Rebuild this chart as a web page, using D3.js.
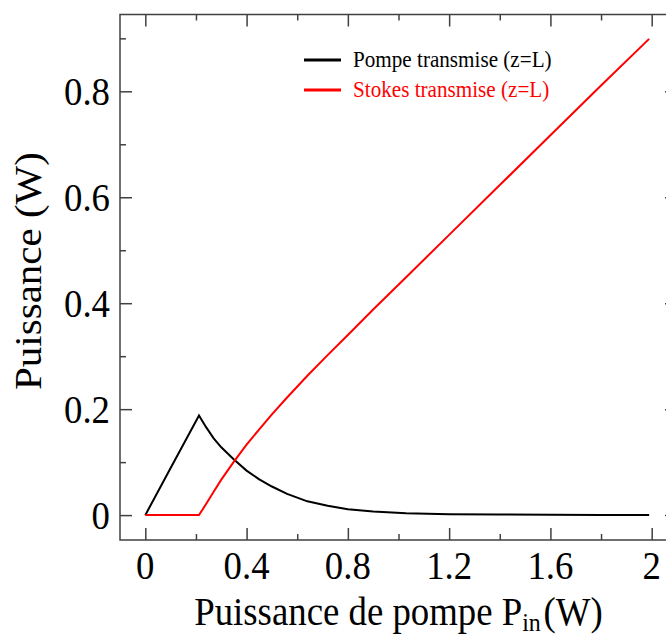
<!DOCTYPE html>
<html>
<head>
<meta charset="utf-8">
<script src="https://cdn.jsdelivr.net/npm/d3@7"></script>
<style>
    body { margin: 0; background: #fff; }
    svg { display: block; }
</style>
</head>
<body>
<div id="chartContainer"></div>
<script>
// Data
var pumpPower = [0, 0.1, 0.212, 0.24, 0.27, 0.3, 0.35, 0.4, 0.45, 0.5, 0.56, 0.64, 0.72, 0.8, 0.9, 1.03, 1.2, 1.4, 1.6, 1.8, 1.99];
var pumpTransmitted = [0, 0.089, 0.188, 0.166, 0.145, 0.128, 0.105, 0.084, 0.0675, 0.054, 0.040, 0.026, 0.0175, 0.011, 0.007, 0.0035, 0.0017, 0.001, 0.0006, 0.0003, 0.0002];
var stokesTransmitted = [0, 0, 0, 0.021, 0.044, 0.067, 0.101, 0.133, 0.162, 0.190, 0.222, 0.263, 0.302, 0.340, 0.388, 0.449, 0.529, 0.623, 0.717, 0.811, 0.899];

var seriesNames = ['Pompe transmise (z=L)', 'Stokes transmise (z=L)'];
var seriesColors = ['#000000', '#ff0000'];

var xMajorTicks = [0, 0.4, 0.8, 1.2, 1.6, 2];
var xMinorTicks = [0.2, 0.6, 1.0, 1.4, 1.8];
var yMajorTicks = [0, 0.2, 0.4, 0.6, 0.8];
var yMinorTicks = [0.1, 0.3, 0.5, 0.7, 0.9];

var width = 666;
var height = 635;

var frameLeft = 120;
var frameRight = 677;
var frameTop = 14.5;
var frameBottom = 540;

var majorTickLength = 12;
var minorTickLength = 6;

var fontFamily = '"Liberation Serif", "Times New Roman", serif';
// glyphs in the picture look a bit narrow
var squeeze = 0.92;

var xScale = d3.scaleLinear().domain([-0.1, 2.1]).range([frameLeft, frameRight]);
var yScale = d3.scaleLinear().domain([-0.047, 0.945]).range([frameBottom, frameTop]);

function formatTick(d) {
    return d3.format('~g')(+d.toFixed(2));
}

// Axes
function addTicks(svg) {
    var frameColor = '#404040';
    var axes = [
        { axis: d3.axisBottom(xScale), pos: 'translate(0,' + frameBottom + ')' },
        { axis: d3.axisTop(xScale), pos: 'translate(0,' + frameTop + ')' },
        { axis: d3.axisLeft(yScale), pos: 'translate(' + frameLeft + ',0)' },
        { axis: d3.axisRight(yScale), pos: 'translate(' + frameRight + ',0)' }
    ];
    axes.forEach(function (a, i) {
        var isX = i < 2;
        // negative size = ticks pointing into the frame
        var major = svg.append('g').attr('transform', a.pos)
            .call(a.axis.tickValues(isX ? xMajorTicks : yMajorTicks)
                .tickSize(-majorTickLength).tickFormat(''));
        var minor = svg.append('g').attr('transform', a.pos)
            .call(a.axis.tickValues(isX ? xMinorTicks : yMinorTicks)
                .tickSize(-minorTickLength).tickFormat(''));
        [major, minor].forEach(function (g) {
            g.select('.domain').remove();
            g.selectAll('line').attr('stroke', frameColor).attr('stroke-width', 1.5);
        });
    });

    svg.append('rect')
        .attr('x', frameLeft)
        .attr('y', frameTop)
        .attr('width', frameRight - frameLeft)
        .attr('height', frameBottom - frameTop)
        .attr('fill', 'none')
        .attr('stroke', frameColor)
        .attr('stroke-width', 1.5);
}

function addTickLabels(svg) {
    svg.append('g').selectAll('text')
        .data(xMajorTicks)
        .enter()
        .append('text')
        .attr('transform', function (d) {
            return 'translate(' + xScale(d) + ',579) scale(' + squeeze + ',1)';
        })
        .attr('text-anchor', 'middle')
        .attr('font-family', fontFamily)
        .attr('font-size', '40px')
        .text(formatTick);

    svg.append('g').selectAll('text')
        .data(yMajorTicks)
        .enter()
        .append('text')
        .attr('transform', function (d) {
            return 'translate(110,' + (yScale(d) + 13.5) + ') scale(' + squeeze + ',1)';
        })
        .attr('text-anchor', 'end')
        .attr('font-family', fontFamily)
        .attr('font-size', '40px')
        .text(formatTick);
}

function addAxisTitles(svg) {
    var xTitle = svg.append('text')
        .attr('transform', 'translate(' + ((frameLeft + frameRight) / 2) + ',625) scale(' + squeeze + ',1)')
        .attr('text-anchor', 'middle')
        .attr('font-family', fontFamily)
        .attr('font-size', '40px');
    xTitle.append('tspan').text('Puissance de pompe P');
    xTitle.append('tspan').attr('font-size', '26px').attr('dy', 6).text('in');
    xTitle.append('tspan').attr('dy', -6).attr('dx', 3).text('(W)');

    svg.append('text')
        .attr('transform', 'translate(41,271) rotate(-90) scale(1,' + squeeze + ')')
        .attr('text-anchor', 'middle')
        .attr('font-family', fontFamily)
        .attr('font-size', '41px')
        .text('Puissance (W)');
}

// Curves
function addCurves(svg) {
    var series = [pumpTransmitted, stokesTransmitted];
    var line = d3.line()
        .x(function (d, i) { return xScale(pumpPower[i]); })
        .y(function (d) { return yScale(d); });

    series.forEach(function (values, i) {
        svg.append('path')
            .datum(values)
            .attr('d', line)
            .attr('fill', 'none')
            .attr('stroke', seriesColors[i])
            .attr('stroke-width', 2)
            .attr('stroke-linejoin', 'miter');
    });
}

function addLegend(svg) {
    var rowY = [60, 90];
    seriesNames.forEach(function (name, i) {
        svg.append('line')
            .attr('x1', 304)
            .attr('x2', 341)
            .attr('y1', rowY[i])
            .attr('y2', rowY[i])
            .attr('stroke', seriesColors[i])
            .attr('stroke-width', 3);
        svg.append('text')
            .attr('transform', 'translate(353,' + (rowY[i] + 7) + ') scale(' + squeeze + ',1)')
            .attr('font-family', fontFamily)
            .attr('font-size', '23px')
            .attr('fill', seriesColors[i])
            .text(name);
    });
}

var svgSelection = d3.select('#chartContainer').append('svg')
    .attr('width', width)
    .attr('height', height);

addCurves(svgSelection);
addTicks(svgSelection);
addTickLabels(svgSelection);
addAxisTitles(svgSelection);
addLegend(svgSelection);
</script>
</body>
</html>
